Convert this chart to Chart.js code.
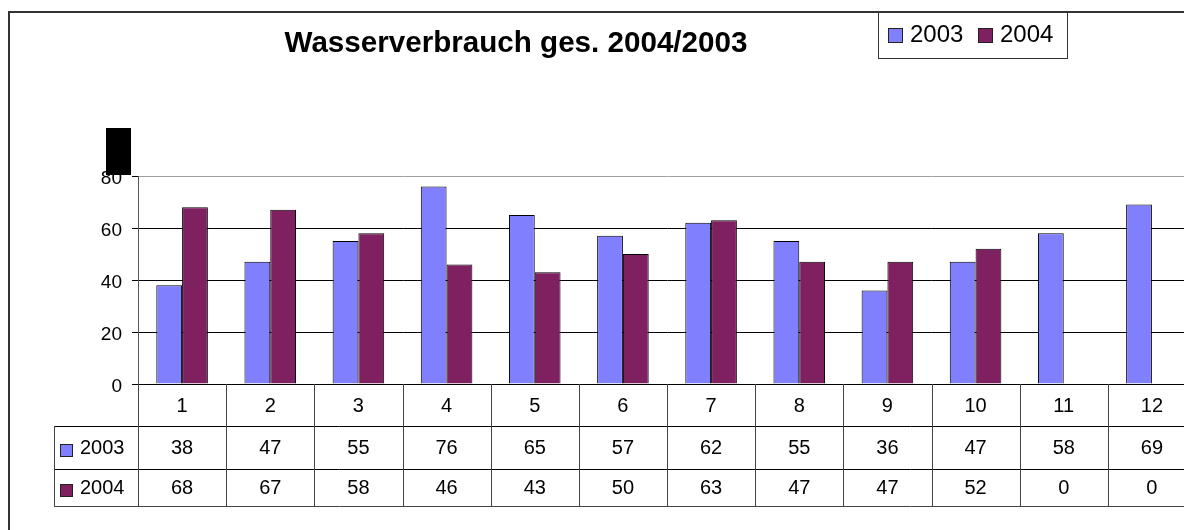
<!DOCTYPE html>
<html>
<head>
<meta charset="utf-8">
<script src="https://cdn.jsdelivr.net/npm/chart.js@4/dist/chart.umd.min.js"></script>
<style>
html,body{margin:0;padding:0;overflow:hidden;background:#fff;}
#wrap{width:1210px;height:530px;position:relative;}
</style>
</head>
<body>
<div id="wrap"><canvas id="c" width="1210" height="530"></canvas></div>
<script>
const categories = ['1','2','3','4','5','6','7','8','9','10','11','12'];
const values2003 = [38,47,55,76,65,57,62,55,36,47,58,69];
const values2004 = [68,67,58,46,43,50,63,47,47,52,0,0];
const seriesNames = ['2003','2004'];
const yTicks = [0,20,40,60,80];
const chartTitle = 'Wasserverbrauch ges. 2004/2003';

const FONT = "'Liberation Sans', Arial, sans-serif";
const COLORS = ['#8080ff', '#7f2060'];

Chart.defaults.font.family = FONT;
Chart.defaults.color = '#000';

const decor = {
  id: 'decor',
  afterDraw(chart) {
    const ctx = chart.ctx;
    const x = chart.scales.x;
    const area = chart.chartArea;
    ctx.save();
    // outer frame
    ctx.strokeStyle = '#333';
    ctx.lineWidth = 2;
    ctx.beginPath();
    ctx.moveTo(9, 530); ctx.lineTo(9, 12); ctx.lineTo(1210, 12);
    ctx.stroke();
    // title
    ctx.fillStyle = '#000';
    ctx.font = 'bold 29.6px ' + FONT;
    ctx.textAlign = 'center';
    ctx.textBaseline = 'alphabetic';
    ctx.fillText(chartTitle, 516, 52);
    // black marker rectangle
    ctx.fillRect(106, 128, 25, 47);
    // legend box
    ctx.fillStyle = '#fff';
    ctx.fillRect(878, 12, 189, 46);
    ctx.strokeStyle = '#333';
    ctx.lineWidth = 1;
    ctx.strokeRect(878.5, 12.5, 189, 46);
    ctx.font = '24px ' + FONT;
    ctx.textAlign = 'left';
    ctx.textBaseline = 'middle';
    const legX = [888, 978];
    seriesNames.forEach((n, i) => {
      ctx.fillStyle = COLORS[i];
      ctx.fillRect(legX[i], 28, 14, 14);
      ctx.strokeStyle = '#222';
      ctx.strokeRect(legX[i] + 0.5, 28.5, 14, 14);
      ctx.fillStyle = '#000';
      ctx.fillText(n, legX[i] + 22, 35);
    });
    // data table
    const cw = x.width / categories.length;
    const top = area.bottom, r1 = 426, r2 = 469, bot = 506, left = 54;
    ctx.lineWidth = 1;
    ctx.strokeStyle = '#000';
    ctx.beginPath();
    ctx.moveTo(left, r1 + 0.5); ctx.lineTo(x.right, r1 + 0.5);
    ctx.moveTo(left, r2 + 0.5); ctx.lineTo(x.right, r2 + 0.5);
    ctx.stroke();
    ctx.strokeStyle = '#444';
    ctx.beginPath();
    ctx.moveTo(left, bot + 0.5); ctx.lineTo(x.right, bot + 0.5);
    ctx.moveTo(left + 0.5, r1); ctx.lineTo(left + 0.5, bot);
    for (let i = 0; i <= categories.length; i++) {
      const px = Math.round(x.left + i * cw) + 0.5;
      ctx.moveTo(px, top); ctx.lineTo(px, bot);
    }
    ctx.stroke();
    const rows = [values2003, values2004];
    const rowY = [448, 488];
    const rowMarkY = [444, 484];
    ctx.font = '20px ' + FONT;
    rows.forEach((vals, ri) => {
      ctx.fillStyle = COLORS[ri];
      ctx.fillRect(60, rowMarkY[ri], 12, 12);
      ctx.strokeStyle = '#222';
      ctx.strokeRect(60.5, rowMarkY[ri] + 0.5, 12, 12);
      ctx.fillStyle = '#000';
      ctx.textAlign = 'left';
      ctx.fillText(seriesNames[ri], 80, rowY[ri]);
      ctx.textAlign = 'center';
      vals.forEach((v, i) => {
        ctx.fillText(String(v), x.getPixelForValue(i), rowY[ri]);
      });
    });
    ctx.restore();
  }
};

new Chart(document.getElementById('c'), {
  type: 'bar',
  data: {
    labels: categories,
    datasets: [
      { label: seriesNames[0], data: values2003, backgroundColor: COLORS[0], borderColor: '#000', borderWidth: 1 },
      { label: seriesNames[1], data: values2004, backgroundColor: COLORS[1], borderColor: '#000', borderWidth: 1 }
    ]
  },
  options: {
    responsive: false,
    animation: false,
    devicePixelRatio: 1,
    layout: { padding: { top: 176, right: 14, left: 0, bottom: 0 } },
    plugins: { legend: { display: false }, title: { display: false }, tooltip: { enabled: false } },
    datasets: { bar: { categoryPercentage: 0.585, barPercentage: 1 } },
    scales: {
      x: {
        grid: { display: false, drawTicks: false },
        border: { display: true, color: '#000', width: 1 },
        ticks: { font: { size: 20 }, padding: 10, color: '#000', maxRotation: 0, autoSkip: false },
        afterFit(s) { s.height = 146; }
      },
      y: {
        min: 0, max: 80,
        afterBuildTicks(s) { s.ticks = yTicks.map(v => ({ value: v })); },
        grid: {
          color: (c) => (c.tick && c.tick.value === 80 ? '#a0a0a0' : '#000'),
          lineWidth: 1,
          drawTicks: true,
          tickLength: 6,
          tickColor: '#000'
        },
        border: { display: true, color: '#555', width: 1 },
        ticks: { font: { size: 19 }, padding: 10, color: '#000', labelOffset: 3 },
        afterFit(s) { s.width = 138; }
      }
    }
  },
  plugins: [decor]
});
</script>
</body>
</html>
